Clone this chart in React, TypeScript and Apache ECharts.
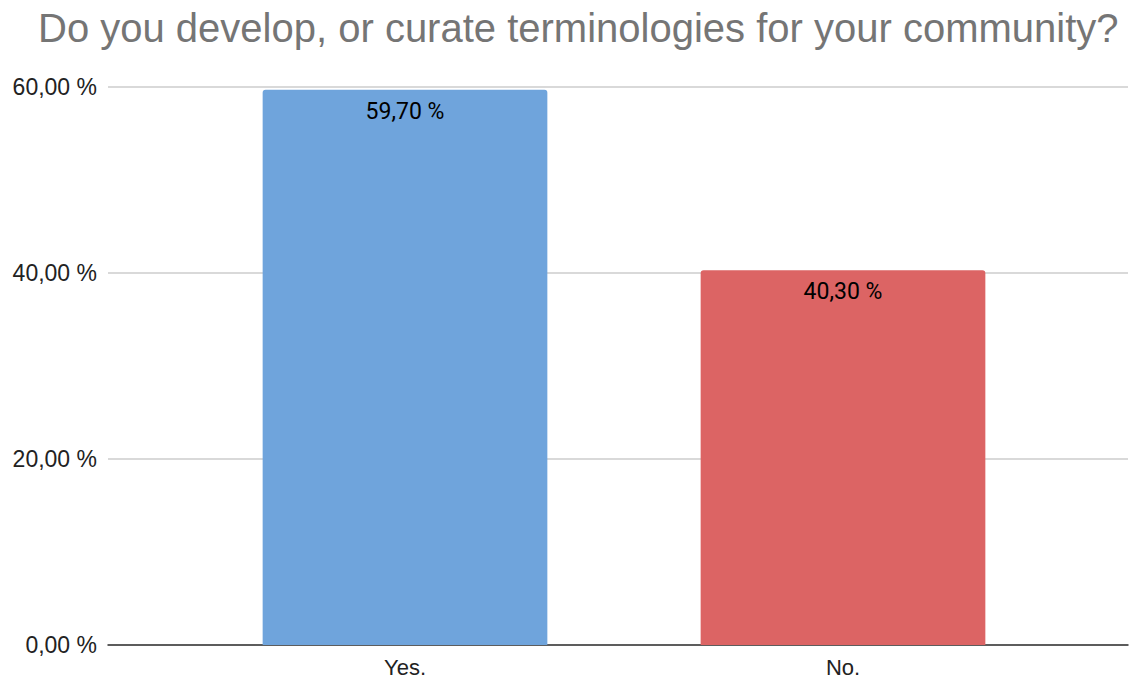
import React, { useEffect, useRef } from "react";
import * as echarts from "echarts";

const categories = ["Yes.", "No."];
const values = [59.7, 40.3];
const barColors = ["#6fa4dc", "#dc6464"];
const yTicks = [0, 20, 40, 60];
const titleText = "Do you develop, or curate terminologies for your community?";

const fmt = (v: number) => v.toFixed(2).replace(".", ",") + " %";

export default function App() {
  const ref = useRef<HTMLDivElement>(null);
  useEffect(() => {
    if (!ref.current) return;
    const chart = echarts.init(ref.current, undefined, { renderer: "svg" });
    const yMin = yTicks[0];
    const yMax = yTicks[yTicks.length - 1];
    chart.setOption({
      animation: false,
      backgroundColor: "#ffffff",
      title: {
        text: titleText,
        left: 33,
        top: 3,
        textStyle: {
          fontFamily: "Liberation Sans",
          fontSize: 40,
          fontWeight: "normal",
          color: "#757575",
        },
      },
      grid: [
        { left: 108, right: 2, top: 87, bottom: 34 },
        { left: 186, right: 68, top: 87, bottom: 34 },
      ],
      xAxis: [
        {
          gridIndex: 0,
          type: "category",
          data: [""],
          axisTick: { show: false },
          axisLabel: { show: false },
          axisLine: { lineStyle: { color: "#333333", width: 1.5 } },
        },
        {
          gridIndex: 1,
          type: "category",
          data: categories,
          axisTick: { show: false },
          axisLine: { show: false },
          axisLabel: {
            fontFamily: "Liberation Sans",
            fontSize: 22,
            color: "#222222",
            margin: 11,
          },
        },
      ],
      yAxis: [
        {
          gridIndex: 0,
          type: "value",
          min: yMin,
          max: yMax,
          interval: 20,
          axisLine: { show: false },
          axisTick: { show: false },
          splitLine: { lineStyle: { color: "#cccccc", width: 1.5 } },
          axisLabel: {
            fontFamily: "Liberation Sans",
            fontSize: 23,
            color: "#222222",
            margin: 11,
            formatter: (v: number) => fmt(v),
          },
        },
        {
          gridIndex: 1,
          type: "value",
          min: yMin,
          max: yMax,
          interval: 20,
          show: false,
          splitLine: { show: false },
        },
      ],
      series: [
        {
          type: "bar",
          xAxisIndex: 1,
          yAxisIndex: 1,
          barWidth: "65%",
          data: values.map((v, i) => ({
            value: v,
            itemStyle: { color: barColors[i], borderRadius: [3, 3, 0, 0] },
          })),
          label: {
            show: true,
            position: "insideTop",
            distance: 10,
            fontFamily: "Roboto",
            fontSize: 23,
            color: "#000000",
            formatter: (p: any) => fmt(p.value),
          },
        },
      ],
    });
    return () => chart.dispose();
  }, []);
  return (
    <div
      ref={ref}
      style={{ position: "absolute", left: 0, top: 0, width: 1130, height: 679 }}
    />
  );
}
